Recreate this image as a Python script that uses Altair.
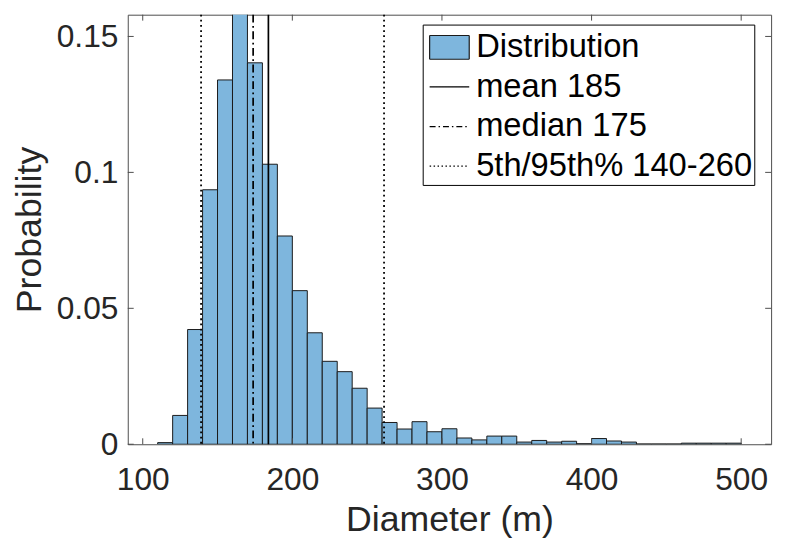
import altair as alt
import pandas as pd

# ---- data ----
bin_start = [110, 120, 130, 140, 150, 160, 170, 180, 190, 200,
             210, 220, 230, 240, 250, 260, 270, 280, 290, 300,
             310, 320, 330, 340, 350, 360, 370, 380, 390, 400,
             410, 420, 430, 440, 450, 460, 470, 480, 490]
probability = [0.0006, 0.0106, 0.0422, 0.0936, 0.1340, 0.1600, 0.1403, 0.1030, 0.0766, 0.0565,
               0.0410, 0.0305, 0.0267, 0.0206, 0.0133, 0.0080, 0.0056, 0.0083, 0.0046, 0.0057,
               0.0023, 0.0016, 0.0030, 0.0030, 0.0008, 0.0014, 0.0008, 0.0011, 0.0002, 0.0021,
               0.0012, 0.0008, 0.0001, 0.0001, 0.0001, 0.0004, 0.0004, 0.0004, 0.0004]
bin_width = 10

legend_labels = ["Distribution", "mean 185", "median 175", "5th/95th% 140-260"]
mean_value = [184.0]
median_value = [173.8]
percentile_values = [139.0, 261.3]

x_ticks = [100, 200, 300, 400, 500]
y_ticks = [0, 0.05, 0.1, 0.15]

# ---- layout / style ----
W, H = 650, 434
X_DOMAIN = [90, 520]
Y_DOMAIN = [0, 0.158]
FONT = "Liberation Sans"
AX = "#4d4d4d"
TXT = "#262626"
BAR_FILL = "#7EB6DD"
TICK = 6

bars_df = pd.DataFrame({
    "start": bin_start,
    "end": [b + bin_width for b in bin_start],
    "p": probability,
})
legend_df = pd.DataFrame({"series": legend_labels})

xs = alt.Scale(domain=X_DOMAIN, nice=False, zero=False)
ys = alt.Scale(domain=Y_DOMAIN, nice=False, zero=False)
x_axis = alt.Axis(values=x_ticks, title="Diameter (m)", format="d",
                  labelPadding=21, titlePadding=7)
y_axis = alt.Axis(values=y_ticks, title="Probability", format="~g",
                  labelPadding=10, titlePadding=8)

bars = alt.Chart(bars_df).mark_bar(
    fill=BAR_FILL, stroke="#1a1a1a", strokeWidth=1, clip=True
).encode(
    x=alt.X("start:Q", scale=xs, axis=x_axis),
    x2="end:Q",
    y=alt.Y("p:Q", scale=ys, axis=y_axis),
    y2=alt.datum(0),
)

mean_rule = alt.Chart(pd.DataFrame({"x": mean_value})).mark_rule(
    color="black", strokeWidth=1.7
).encode(x=alt.X("x:Q", scale=xs, axis=x_axis))

median_rule = alt.Chart(pd.DataFrame({"x": median_value})).mark_rule(
    color="black", strokeWidth=1.7, strokeDash=[8, 3.5, 1.8, 3.5]
).encode(x=alt.X("x:Q", scale=xs, axis=x_axis))

pct_rule = alt.Chart(pd.DataFrame({"x": percentile_values})).mark_rule(
    color="black", strokeWidth=1.8, strokeDash=[1.8, 3.4]
).encode(x=alt.X("x:Q", scale=xs, axis=x_axis))

# inward ticks on all four sides (MATLAB box style)
xt_df = pd.DataFrame({"v": x_ticks})
yt_df = pd.DataFrame({"v": y_ticks})
xt_bottom = alt.Chart(xt_df).mark_rule(color=AX, strokeWidth=1).encode(
    x=alt.X("v:Q", scale=xs, axis=x_axis), y=alt.value(H), y2=alt.value(H - TICK))
xt_top = alt.Chart(xt_df).mark_rule(color=AX, strokeWidth=1).encode(
    x=alt.X("v:Q", scale=xs, axis=x_axis), y=alt.value(0), y2=alt.value(TICK))
yt_left = alt.Chart(yt_df).mark_rule(color=AX, strokeWidth=1).encode(
    y=alt.Y("v:Q", scale=ys, axis=y_axis), x=alt.value(0), x2=alt.value(TICK))
yt_right = alt.Chart(yt_df).mark_rule(color=AX, strokeWidth=1).encode(
    y=alt.Y("v:Q", scale=ys, axis=y_axis), x=alt.value(W), x2=alt.value(W - TICK))

# legend carrier (no visible points): fill + stroke + shape + dash merged into one legend
rect_path = "M-1,-0.6H1V0.6H-1Z"
line_path = "M-1,0H1"
leg = dict(orient="none", legendX=298, legendY=10, title=None,
           strokeColor="black", fillColor="white", padding=2,
           symbolOffset=4, labelOffset=6, rowPadding=2, symbolSize=1600,
           labelFontSize=33, labelFont=FONT, labelColor="black", labelLimit=500,
           labelExpr="datum.label + '\u2002'",
           symbolStrokeColor="black", symbolStrokeWidth=1.2, symbolOpacity=1)
legend_layer = alt.Chart(legend_df).transform_filter("false").mark_point(
    stroke="black", strokeWidth=1.2, opacity=1
).encode(
    fill=alt.Fill("series:N", sort=legend_labels,
                  scale=alt.Scale(domain=legend_labels,
                                  range=[BAR_FILL, "transparent", "transparent", "transparent"]),
                  legend=alt.Legend(**leg)),
    stroke=alt.Stroke("series:N", sort=legend_labels,
                      scale=alt.Scale(domain=legend_labels,
                                      range=["#1a1a1a", "black", "black", "black"]),
                      legend=alt.Legend(**leg)),
    shape=alt.Shape("series:N", sort=legend_labels,
                    scale=alt.Scale(domain=legend_labels,
                                    range=[rect_path, line_path, line_path, line_path]),
                    legend=alt.Legend(**leg)),
    strokeDash=alt.StrokeDash("series:N", sort=legend_labels,
                              scale=alt.Scale(domain=legend_labels,
                                              range=[[1, 0], [1, 0], [6, 3, 1.5, 3], [1.5, 2.5]]),
                              legend=alt.Legend(**leg)),
)

chart = alt.layer(
    bars, pct_rule, median_rule, mean_rule,
    xt_bottom, xt_top, yt_left, yt_right, legend_layer
).properties(
    width=W, height=H,
    autosize=alt.AutoSizeParams(type="none"),
    padding={"left": 121, "top": 4, "right": 10, "bottom": 96},
    background="white",
).configure_view(
    stroke=AX, strokeWidth=1
).configure_axis(
    domain=False, ticks=False, grid=False,
    labelFont=FONT, labelFontSize=32, labelColor=TXT,
    titleFont=FONT, titleFontSize=36, titleFontWeight="normal", titleColor=TXT,
)

chart.save("out.html", embed_options={"renderer": "svg", "actions": False})
